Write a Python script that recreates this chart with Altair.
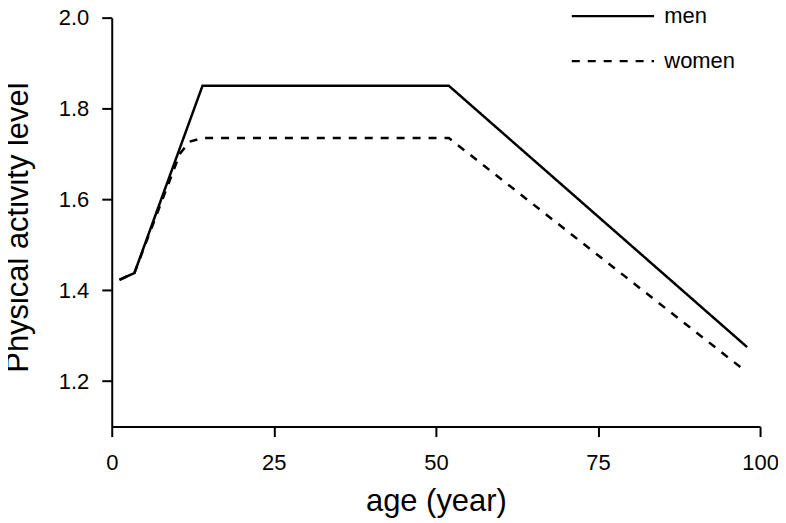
import altair as alt
import pandas as pd

men_age = [1.2, 3.5, 14.0, 52.0, 98.0]
men_pal = [1.423, 1.438, 1.85, 1.85, 1.275]
women_age = [1.2, 3.5, 10.5, 12.0, 14.0, 52.0, 97.5]
women_pal = [1.423, 1.438, 1.700, 1.727, 1.735, 1.735, 1.225]
groups = ["men", "women"]
x_ticks = [0, 25, 50, 75, 100]
y_ticks = [1.2, 1.4, 1.6, 1.8, 2.0]

rows = []
for a, p in zip(men_age, men_pal):
    rows.append({"sex": "men", "age": a, "pal": p})
for a, p in zip(women_age, women_pal):
    rows.append({"sex": "women", "age": a, "pal": p})
df = pd.DataFrame(rows)

FONT = "Liberation Sans"

chart = alt.Chart(df).mark_line(color="black", strokeWidth=2.5, strokeCap="butt").encode(
    x=alt.X("age:Q", scale=alt.Scale(domain=[0, 100], nice=False, zero=False),
            axis=alt.Axis(values=x_ticks, title="age (year)", labelFlush=False,
                          labelPadding=16, titleBaseline="alphabetic", titleY=84)),
    y=alt.Y("pal:Q", scale=alt.Scale(domain=[1.1, 2.0], nice=False, zero=False),
            axis=alt.Axis(values=y_ticks, format=".1f", title="Physical activity level",
                          labelPadding=13, titleBaseline="alphabetic", titleX=-84, titleY=210)),
    strokeDash=alt.StrokeDash("sex:N", scale=alt.Scale(domain=groups, range=[[1, 0], [8, 8]]),
                              legend=alt.Legend(title=None, orient="none", legendX=486, legendY=-18,
                                                symbolType="M-2.75,0L2.75,0", symbolSize=900,
                                                symbolStrokeWidth=2.3, symbolStrokeColor="black",
                                                labelOffset=35, rowPadding=17, labelFontSize=22,
                                                labelFont=FONT, labelColor="black", padding=0)),
    order="age:Q",
).properties(
    width=650, height=410,
    autosize=alt.AutoSizeParams(type="none"),
    padding={"left": 104, "top": 9, "right": 18, "bottom": 96},
).configure_view(stroke=None).configure_axis(
    grid=False, domainColor="black", domainWidth=2, tickColor="black", tickWidth=2, tickSize=10,
    labelFont=FONT, labelFontSize=22, labelColor="black",
    titleFont=FONT, titleFontSize=31, titleColor="black", titleFontWeight="normal",
)

chart.save("out.html", embed_options={"renderer": "svg", "actions": False})
